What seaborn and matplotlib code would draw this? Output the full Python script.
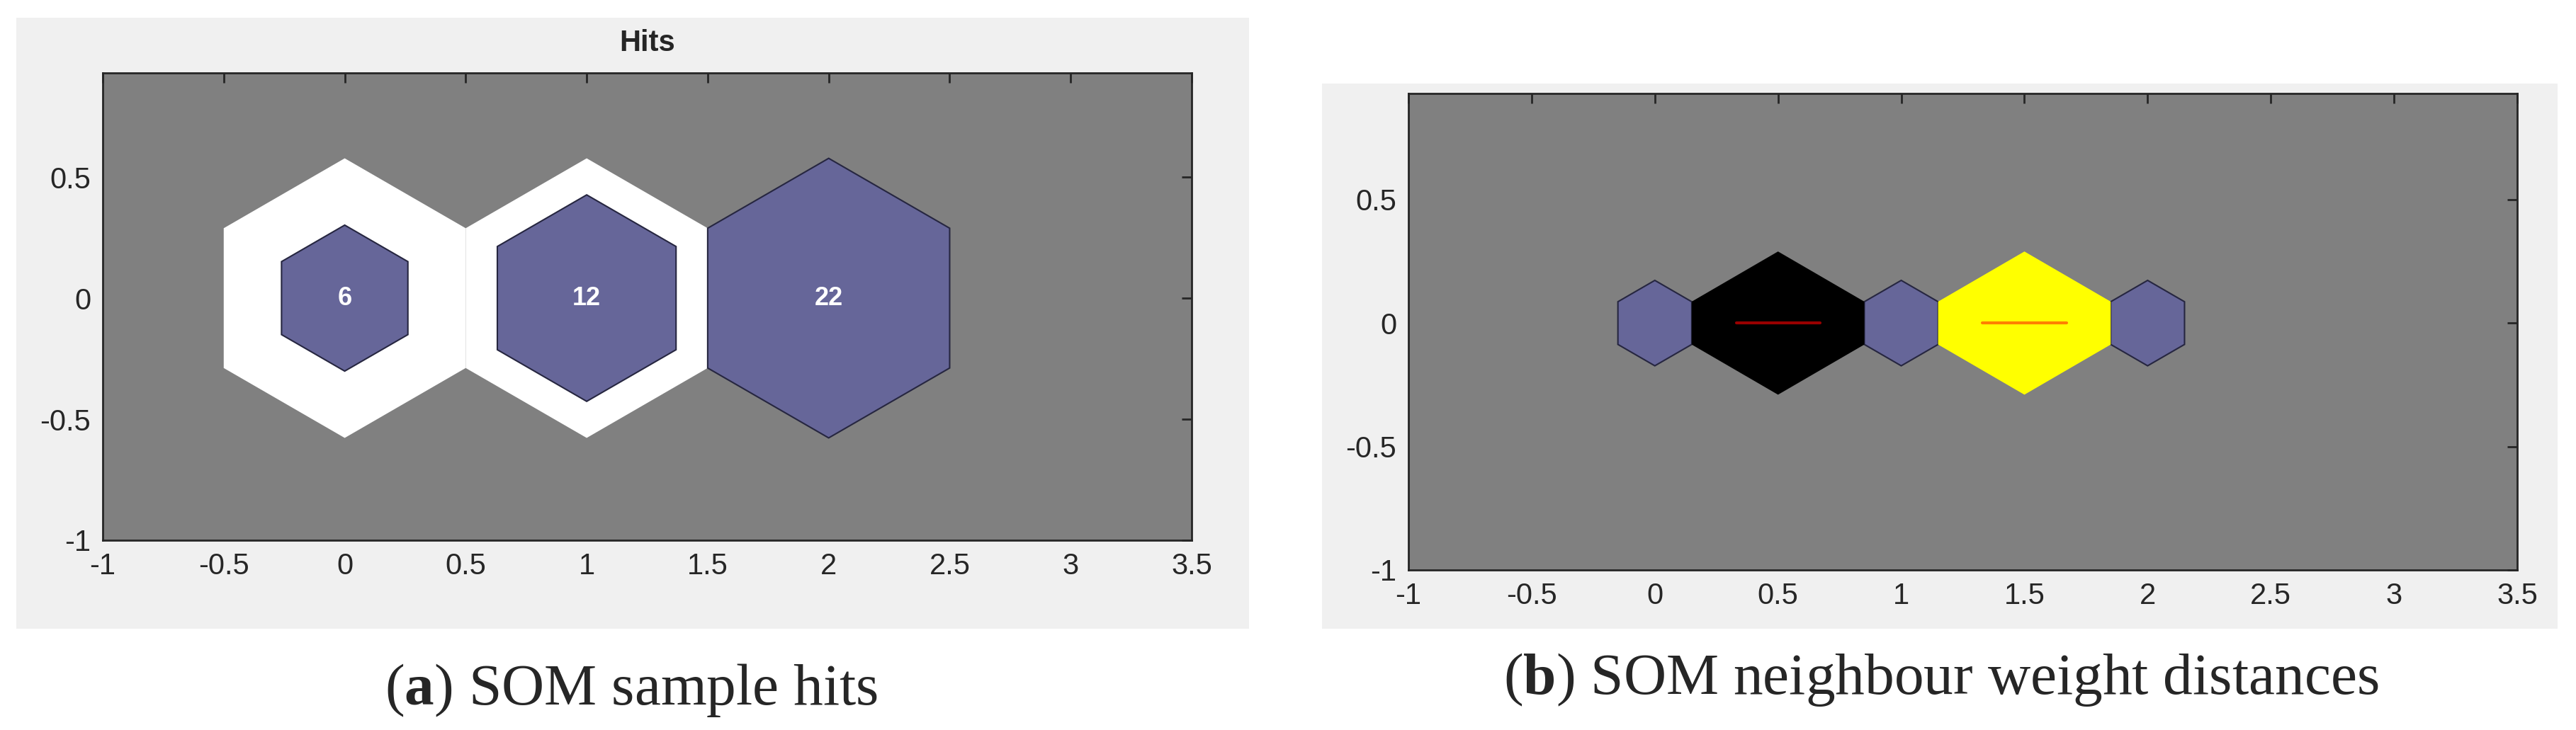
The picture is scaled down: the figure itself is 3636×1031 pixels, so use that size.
import numpy as np
import matplotlib
matplotlib.use("Agg")
import matplotlib.pyplot as plt
import seaborn as sns
from matplotlib.patches import Polygon, Rectangle

sns.set_style("white")
plt.rcParams['font.family'] = ['Liberation Sans', 'DejaVu Sans']
plt.rcParams['mathtext.fontset'] = 'custom'
plt.rcParams['mathtext.rm'] = 'Liberation Serif'
plt.rcParams['mathtext.bf'] = 'Liberation Serif:bold'

# data
neuron_x = [0, 1, 2]
hits = [6, 12, 22]
link_x = [0.5, 1.5]
link_colors = ['#000000', '#ffff00']
link_line_colors = ['#990000', '#ff8000']
xticks = [-1, -0.5, 0, 0.5, 1, 1.5, 2, 2.5, 3, 3.5]
yticks = [-1, -0.5, 0, 0.5]

W, H = 3637, 1031
fig = plt.figure(figsize=(W / 100, H / 100), dpi=100)
fig.patch.set_facecolor('white')

def px_rect(x0, y0, x1, y1):
    return [x0 / W, 1 - y1 / H, (x1 - x0) / W, (y1 - y0) / H]

def hexagon(cx, cy, r):
    ang = np.deg2rad(90 + 60 * np.arange(6))
    return np.column_stack([cx + r * np.cos(ang), cy + r * np.sin(ang)])

for rect in [px_rect(23, 25, 1763, 888), px_rect(1866, 118, 3610, 888)]:
    fig.patches.append(Rectangle(rect[:2], rect[2], rect[3], transform=fig.transFigure,
                                 facecolor='#f0f0f0', edgecolor='none', zorder=-10))

def style_axes(ax):
    ax.set_zorder(5)
    ax.set_facecolor('#808080')
    ax.set_xlim(-1, 3.5)
    ax.set_ylim(-1, 0.93)
    ax.set_xticks(xticks)
    ax.set_xticklabels([f"{t:g}" for t in xticks])
    ax.set_yticks(yticks)
    ax.set_yticklabels([f"{t:g}" for t in yticks])
    ax.tick_params(direction='in', length=10, width=2, labelsize=30, top=True, right=True,
                   colors='#262626', pad=12)
    for s in ax.spines.values():
        s.set_color('#262626')
        s.set_linewidth(2)
        s.set_visible(True)

R = 1 / np.sqrt(3)

# (a) hits
ax1 = fig.add_axes(px_rect(145, 103, 1682, 763))
style_axes(ax1)
for x, h in zip(neuron_x, hits):
    if h < max(hits):
        ax1.add_patch(Polygon(hexagon(x, 0, R), facecolor='white', edgecolor='none'))
    ax1.add_patch(Polygon(hexagon(x, 0, R * np.sqrt(h / max(hits))), facecolor='#666699',
                          edgecolor='#262640', linewidth=1.5))
    ax1.text(x, 0, str(h), ha='center', va='center', color='white', fontsize=26, fontweight='bold')
ax1.set_title('Hits', fontsize=30, fontweight='bold', pad=22)

# (b) neighbour distances
ax2 = fig.add_axes(px_rect(1988, 132, 3553, 805))
style_axes(ax2)
r_small = 0.173
for x in neuron_x:
    ax2.add_patch(Polygon(hexagon(x, 0, r_small), facecolor='#666699', edgecolor='#262640', linewidth=1.5))
for x, fc, lc in zip(link_x, link_colors, link_line_colors):
    hw = 0.5 - r_small * np.sqrt(3) / 2
    verts = [(x, 0.29), (x + hw, 0.087), (x + hw, -0.087), (x, -0.29), (x - hw, -0.087), (x - hw, 0.087)]
    ax2.add_patch(Polygon(verts, facecolor=fc, edgecolor='none'))
    ax2.plot([x - 0.17, x + 0.17], [0, 0], color=lc, linewidth=3)

fig.text(891 / W, 1 - 975 / H, r'($\mathbf{a}$) SOM sample hits', ha='center', va='center',
         fontsize=60, family='Liberation Serif')
fig.text(2740 / W, 1 - 960 / H, r'($\mathbf{b}$) SOM neighbour weight distances', ha='center', va='center',
         fontsize=60, family='Liberation Serif')

fig.savefig('out.png', dpi=100)
